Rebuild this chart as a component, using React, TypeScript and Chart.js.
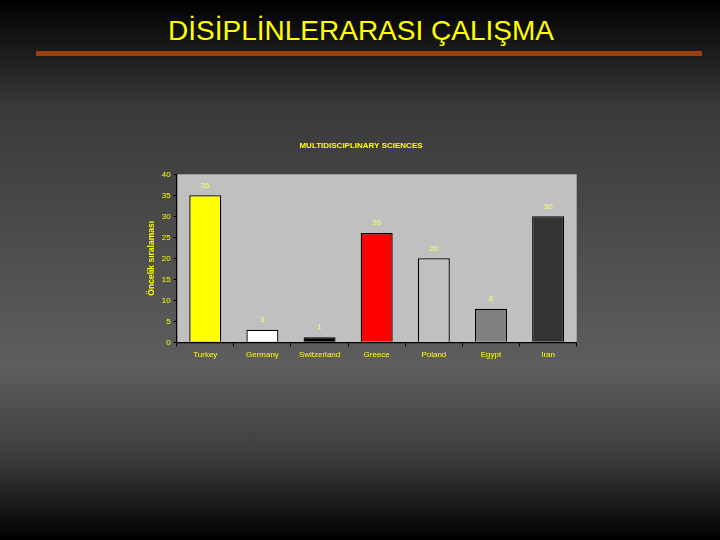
import React, { useEffect, useRef } from "react";
import { Chart, registerables } from "chart.js";

Chart.register(...registerables);

const categories = ["Turkey", "Germany", "Switzerland", "Greece", "Poland", "Egypt", "Iran"];
const values = [35, 3, 1.2, 26, 20, 8, 30];
const valueLabels = ["35", "3", "1", "26", "20", "8", "30"];
const barColors = ["#ffff00", "#ffffff", "#000000", "#ff0000", "#c0c0c0", "#808080", "#333333"];
const slideTitle = "DİSİPLİNLERARASI ÇALIŞMA";
const chartTitle = "MULTIDISCIPLINARY SCIENCES";
const yAxisTitle = "Öncelik sıralaması";

const FONT = "'Liberation Sans', Arial, sans-serif";
const YELLOW = "#ffff00";

const decorPlugin = {
  id: "decor",
  beforeDraw(chart: any) {
    const { ctx, chartArea } = chart;
    ctx.save();
    ctx.fillStyle = "#c0c0c0";
    ctx.fillRect(chartArea.left, chartArea.top, chartArea.right - chartArea.left, chartArea.bottom - chartArea.top);
    ctx.restore();
  },
  afterDraw(chart: any) {
    const { ctx } = chart;
    ctx.save();
    ctx.fillStyle = YELLOW;
    ctx.font = "bold 8px " + FONT;
    ctx.textAlign = "center";
    ctx.textBaseline = "middle";
    ctx.fillText(chartTitle, 361, 146);
    ctx.font = "8px " + FONT;
    ctx.fillStyle = "#ffff66";
    const meta = chart.getDatasetMeta(0);
    meta.data.forEach((bar: any, i: number) => {
      ctx.fillText(valueLabels[i], bar.x, bar.y - 10);
    });
    ctx.restore();
  },
};

export default function App() {
  const ref = useRef<HTMLCanvasElement>(null);
  useEffect(() => {
    if (!ref.current) return;
    const chart = new Chart(ref.current, {
      type: "bar",
      data: {
        labels: categories,
        datasets: [
          {
            data: values,
            backgroundColor: barColors,
            borderColor: "#000000",
            borderWidth: 1.3,
            barPercentage: 0.56,
            categoryPercentage: 1,
          },
        ],
      },
      options: {
        animation: false,
        responsive: false,
        maintainAspectRatio: false,
        layout: { padding: { left: 145, right: 143.3, top: 174.3, bottom: 177.7 } },
        plugins: {
          legend: { display: false },
          title: { display: false },
          tooltip: { enabled: false },
        },
        scales: {
          x: {
            offset: true,
            border: { display: true, color: "#000000", width: 1.3 },
            grid: {
              display: true,
              offset: true,
              drawOnChartArea: false,
              drawTicks: true,
              tickLength: 4,
              color: "#000000",
              lineWidth: 1,
            },
            ticks: { color: YELLOW, font: { family: FONT, size: 8 }, padding: 4, maxRotation: 0, autoSkip: false },
            afterFit(scale: any) {
              scale.height = 20;
            },
          },
          y: {
            min: 0,
            max: 40,
            border: { display: true, color: "#000000", width: 1.3 },
            grid: {
              display: true,
              drawOnChartArea: false,
              drawTicks: true,
              tickLength: 3,
              color: "#000000",
              lineWidth: 1,
            },
            ticks: { stepSize: 5, color: YELLOW, font: { family: FONT, size: 8 }, padding: 3 },
            title: {
              display: true,
              text: yAxisTitle,
              color: YELLOW,
              font: { family: FONT, size: 8.5, weight: "bold" },
              padding: { top: 2, bottom: 2 },
            },
            afterFit(scale: any) {
              scale.width = 31.7;
            },
          },
        },
      },
      plugins: [decorPlugin],
    });
    return () => chart.destroy();
  }, []);

  return (
    <div
      style={{
        position: "fixed",
        left: 0,
        top: 0,
        width: 720,
        height: 540,
        overflow: "hidden",
        background: "linear-gradient(to bottom, #000000 0%, #3a3a3a 20%, #5e5e5e 68%, #3c3c3c 85%, #000000 100%)",
      }}
    >
      <div
        style={{
          position: "absolute",
          left: 0,
          width: 722,
          top: 14,
          textAlign: "center",
          color: YELLOW,
          fontFamily: FONT,
          fontSize: 28,
          lineHeight: "34px",
          whiteSpace: "nowrap",
        }}
      >
        {slideTitle}
      </div>
      <div
        style={{
          position: "absolute",
          left: 36,
          top: 51,
          width: 666,
          height: 5,
          background: "#9e3f0e",
        }}
      />
      <canvas ref={ref} width={720} height={540} style={{ position: "absolute", left: 0, top: 0 }} />
    </div>
  );
}
